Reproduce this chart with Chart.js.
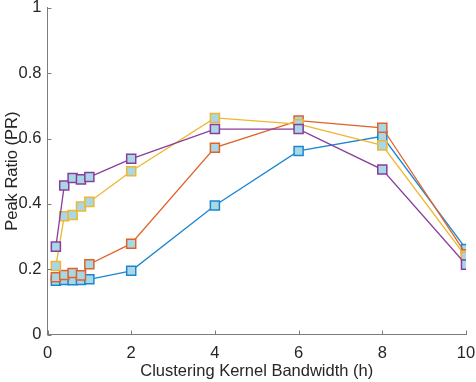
<!DOCTYPE html>
<html>
<head>
<meta charset="utf-8">
<script src="https://cdn.jsdelivr.net/npm/chart.js@4"></script>
<style>
  html, body { margin: 0; padding: 0; background: #fff; }
  #wrap { width: 476px; height: 382px; }
</style>
</head>
<body>
<div id="wrap"><canvas id="prChart" width="476" height="382"></canvas></div>
<script>
// bandwidth values on the x axis
let bandwidths = [0.2, 0.4, 0.6, 0.8, 1, 2, 4, 6, 8, 10];

// peak ratio, one list per curve
let blueSeries   = [0.165, 0.167, 0.166, 0.167, 0.169, 0.195, 0.395, 0.562, 0.607, 0.262];
let orangeSeries = [0.175, 0.182, 0.188, 0.181, 0.215, 0.278, 0.572, 0.655, 0.633, 0.246];
let yellowSeries = [0.210, 0.362, 0.366, 0.392, 0.406, 0.500, 0.663, 0.644, 0.579, 0.238];
let purpleSeries = [0.269, 0.456, 0.479, 0.475, 0.482, 0.538, 0.629, 0.629, 0.505, 0.214];

let xTicks = [0, 2, 4, 6, 8, 10];
let yTicks = [0, 0.2, 0.4, 0.6, 0.8, 1];

let markerFill = "#a8d8e6";
let axisColor = "#7c7c7c";
let textColor = "#262626";
let fontSize = 16.5;

function toPoints(values) {
    return values.map((v, i) => ({ x: bandwidths[i], y: v }));
}

function makeSet(values, color, order) {
    return {
        data: toPoints(values),
        borderColor: color,
        backgroundColor: markerFill,
        borderWidth: 1.3,
        pointStyle: 'rect',
        pointRadius: 6.4,
        pointBorderColor: color,
        pointBackgroundColor: markerFill,
        pointBorderWidth: 1.5,
        order: order,
        showLine: true
    };
}

// small inward tick marks like the original axes
const innerTicks = {
    id: 'innerTicks',
    afterDraw(chart) {
        let ctx = chart.ctx;
        let xs = chart.scales.x;
        let ys = chart.scales.y;
        let left = chart.chartArea.left;
        let bottom = chart.chartArea.bottom;
        ctx.save();
        ctx.strokeStyle = axisColor;
        ctx.lineWidth = 1;
        ctx.beginPath();
        yTicks.forEach(t => {
            let py = Math.round(ys.getPixelForValue(t)) + 0.5;
            ctx.moveTo(left, py);
            ctx.lineTo(left + 4, py);
        });
        xTicks.forEach(t => {
            let px = Math.round(xs.getPixelForValue(t)) + 0.5;
            ctx.moveTo(px, bottom);
            ctx.lineTo(px, bottom - 4);
        });
        ctx.stroke();
        ctx.restore();
    }
};

Chart.defaults.font.family = "'Liberation Sans', Arial, sans-serif";
Chart.defaults.color = textColor;

let ctx = document.getElementById("prChart").getContext("2d");
let prChart = new Chart(ctx, {
    type: 'scatter',
    data: {
        datasets: [
            makeSet(blueSeries, "#1c86cf", 3),
            makeSet(orangeSeries, "#e0622a", 2),
            makeSet(yellowSeries, "#f0b630", 1),
            makeSet(purpleSeries, "#8a3d9c", 0)
        ]
    },
    options: {
        responsive: false,
        animation: false,
        layout: { padding: { top: 5, right: 10, left: 0, bottom: 0 } },
        plugins: {
            legend: { display: false },
            tooltip: { enabled: false }
        },
        scales: {
            x: {
                type: 'linear',
                min: 0,
                max: 10,
                grid: { display: false, drawTicks: false },
                border: { display: true, color: axisColor, width: 1 },
                ticks: {
                    stepSize: 2,
                    padding: 9,
                    font: { size: fontSize },
                    maxRotation: 0
                },
                title: {
                    display: true,
                    text: 'Clustering Kernel Bandwidth (h)',
                    font: { size: fontSize },
                    padding: { top: 0, bottom: 1 }
                },
                afterFit(scale) {
                    scale.height = 47.5;
                    scale.paddingLeft = 0;
                    scale.paddingRight = 0;
                }
            },
            y: {
                min: 0,
                max: 1,
                grid: { display: false, drawTicks: false },
                border: { display: true, color: axisColor, width: 1 },
                ticks: {
                    stepSize: 0.2,
                    padding: 6,
                    font: { size: fontSize },
                    callback: v => String(Math.round(v * 10) / 10)
                },
                title: {
                    display: true,
                    text: 'Peak Ratio (PR)',
                    font: { size: fontSize },
                    padding: { top: 3, bottom: 0 }
                },
                afterFit(scale) {
                    scale.width = 47.5;
                    scale.paddingTop = 0;
                    scale.paddingBottom = 0;
                }
            }
        }
    },
    plugins: [innerTicks]
});
</script>
</body>
</html>
